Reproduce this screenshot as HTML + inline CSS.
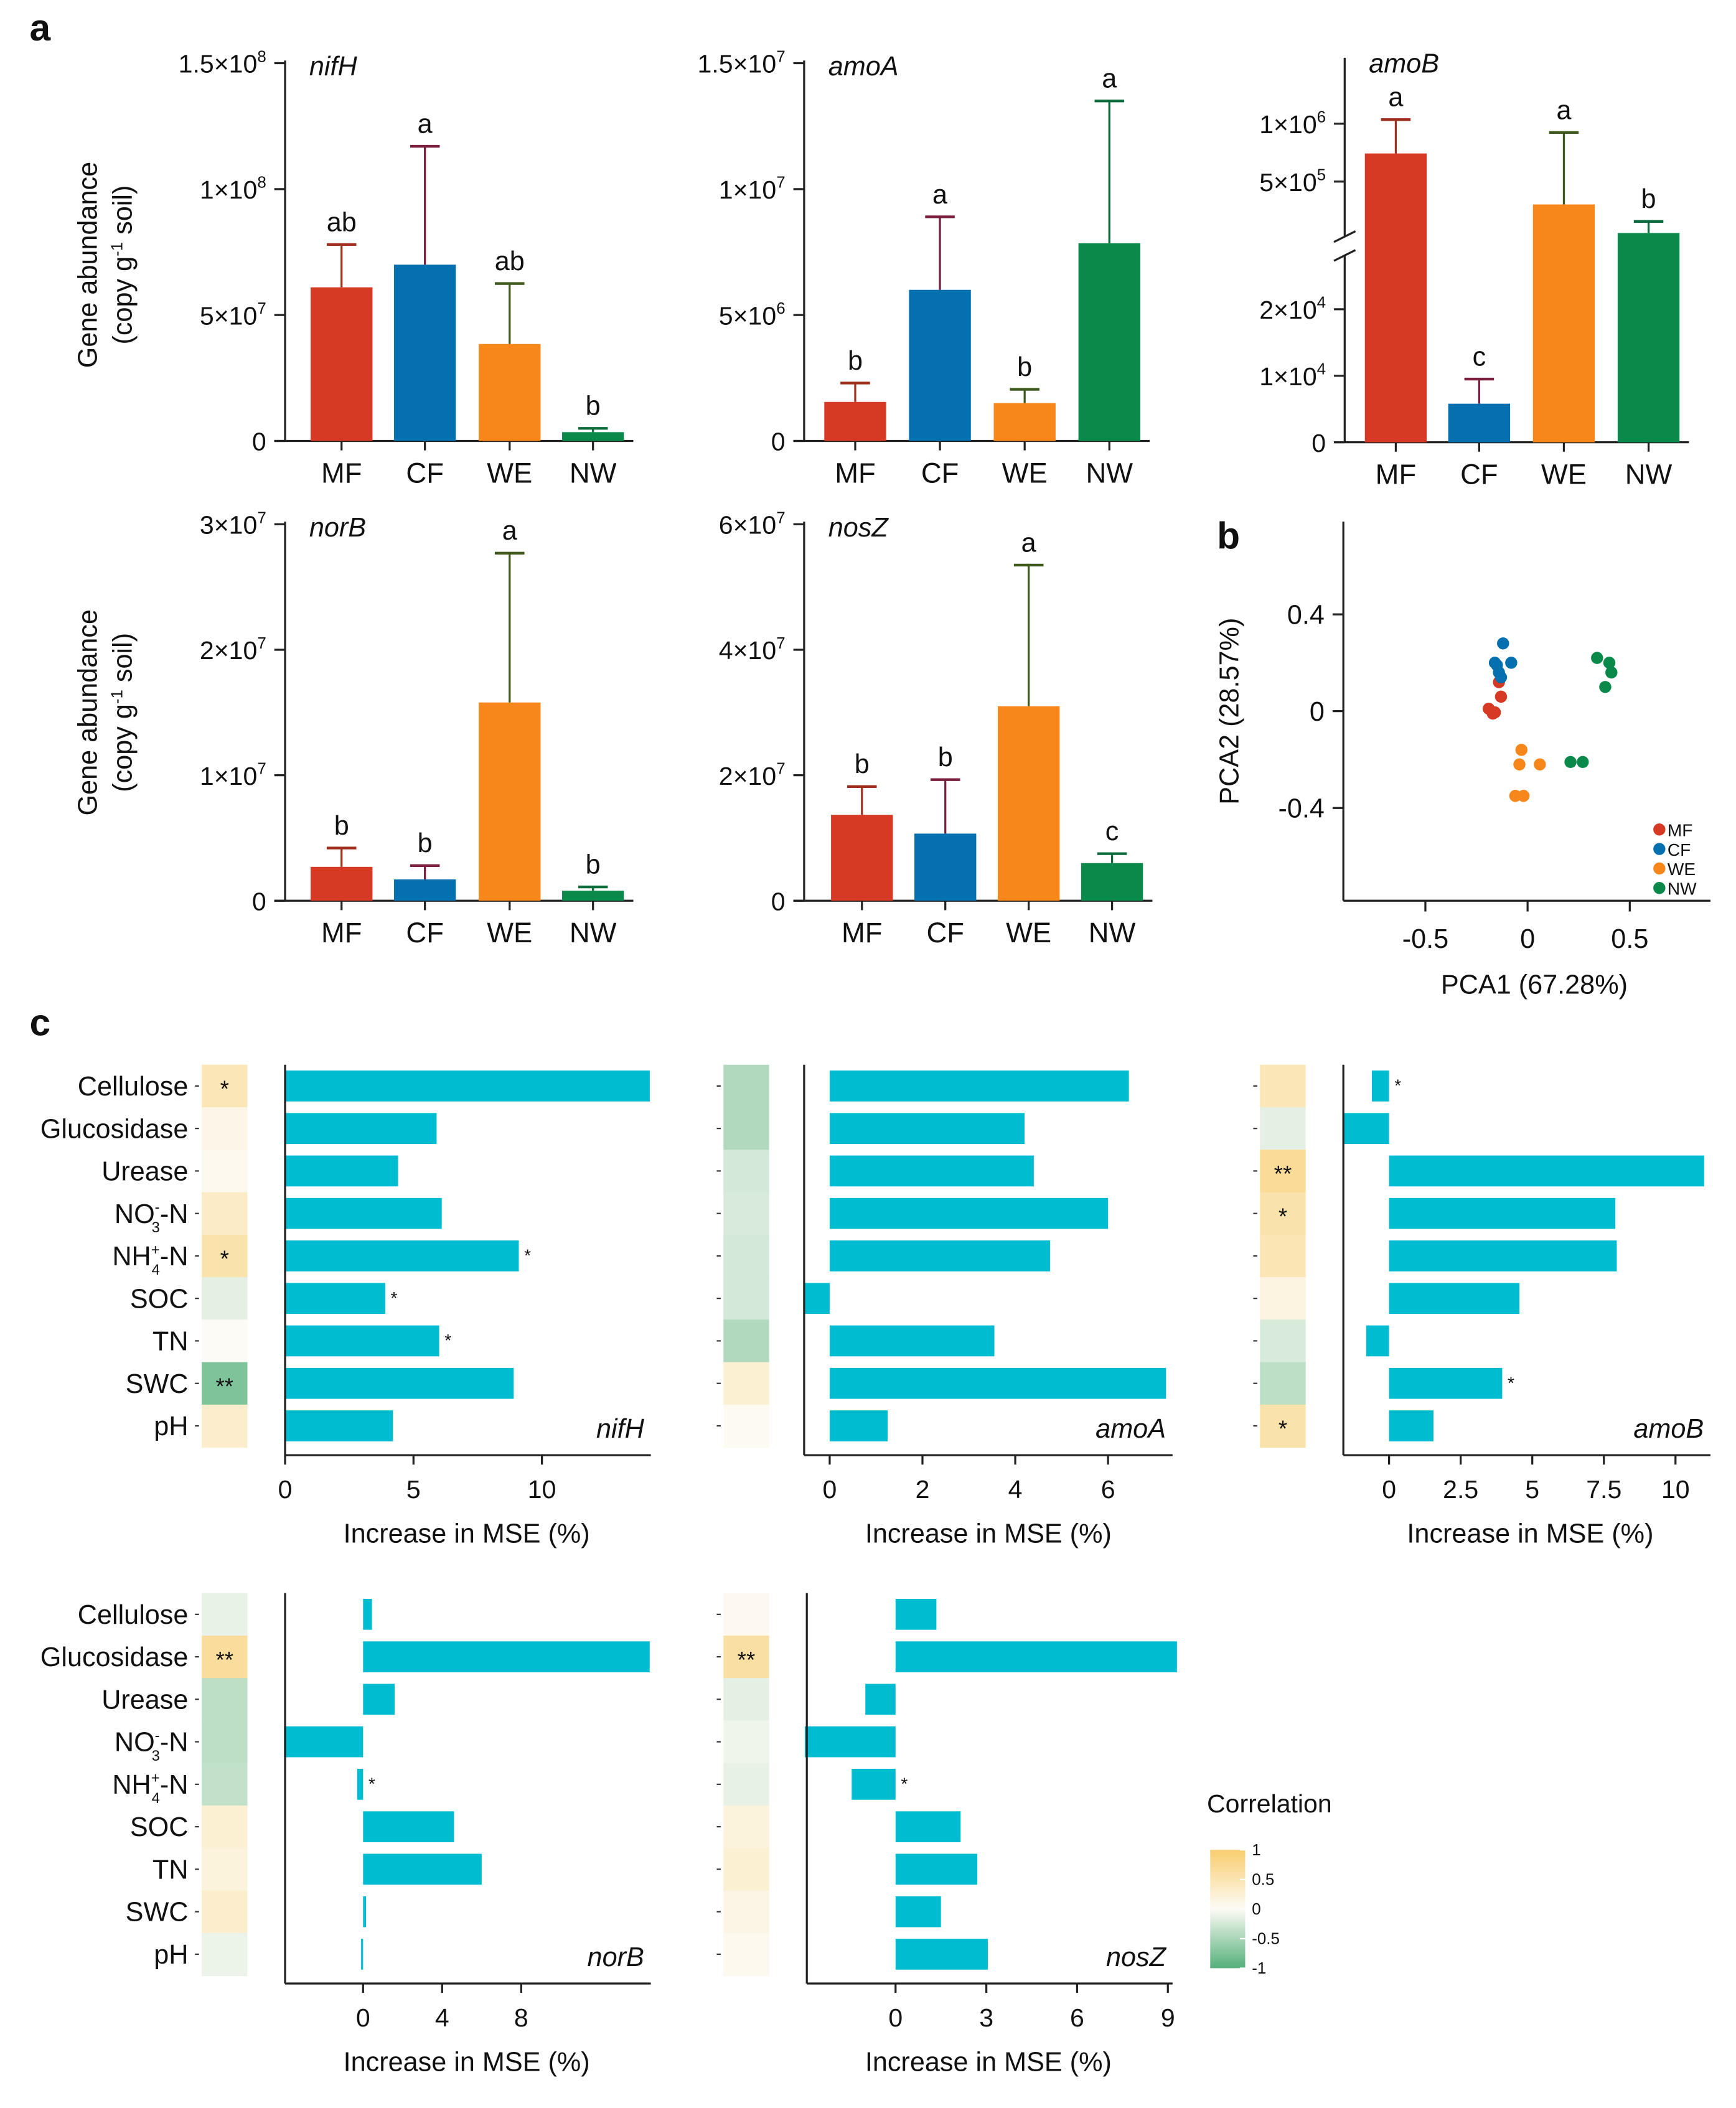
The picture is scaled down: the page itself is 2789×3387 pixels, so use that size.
<!DOCTYPE html>
<html><head><meta charset="utf-8">
<style>
html,body{margin:0;padding:0;background:#fff;}
svg{display:block;font-family:"Liberation Sans",Arial,sans-serif;}
</style></head>
<body>
<svg id="fig" width="2789" height="3387" viewBox="0 0 1291 1568" preserveAspectRatio="none" xmlns="http://www.w3.org/2000/svg"></svg>
<script>
// ---------- data: panel a ----------
const groups = ['MF','CF','WE','NW'];
const nifhMean = [6.1e7, 7.0e7, 3.85e7, 3.5e6];
const nifhErr = [7.8e7, 1.17e8, 6.25e7, 5e6];
const nifhLetters = ['ab','a','ab','b'];
const amoaMean = [1.55e6, 6.0e6, 1.5e6, 7.85e6];
const amoaErr = [2.3e6, 8.9e6, 2.05e6, 1.35e7];
const amoaLetters = ['b','a','b','a'];
const amobMean = [7.0e5, 5.8e3, 3.8e5, 2.7e5];
const amobErr = [1.05e6, 9.5e3, 9.0e5, 3.1e5];
const amobLetters = ['a','c','a','b'];
const norbMean = [2.7e6, 1.7e6, 1.58e7, 8e5];
const norbErr = [4.2e6, 2.8e6, 2.77e7, 1.1e6];
const norbLetters = ['b','b','a','b'];
const noszMean = [1.37e7, 1.07e7, 3.1e7, 6e6];
const noszErr = [1.82e7, 1.93e7, 5.35e7, 7.5e6];
const noszLetters = ['b','b','a','c'];
// ---------- data: panel b ----------
const pcaGroups = ['MF','MF','MF','MF','MF','CF','CF','CF','CF','CF','CF','WE','WE','WE','WE','WE','NW','NW','NW','NW','NW','NW'];
const pcaX = [-0.19,-0.17,-0.16,-0.13,-0.14,-0.12,-0.16,-0.15,-0.14,-0.08,-0.13,-0.03,-0.04,0.06,-0.06,-0.02,0.34,0.40,0.41,0.38,0.21,0.27];
const pcaY = [0.01,-0.01,-0.005,0.06,0.12,0.28,0.2,0.19,0.16,0.2,0.14,-0.16,-0.22,-0.22,-0.35,-0.35,0.22,0.2,0.16,0.1,-0.21,-0.21];
// ---------- data: panel c ----------
const factors = ['Cellulose','Glucosidase','Urease','NO3','NH4','SOC','TN','SWC','pH'];
const mseNifh = [14.2,5.9,4.4,6.1,9.1,3.9,6.0,8.9,4.2];
const mseNifhSig = ['','','','','*','*','*','',''];
const corNifh = [0.45,0.1,0.05,0.35,0.55,-0.15,0,-0.75,0.3];
const corNifhSig = ['*','','','','*','','','**',''];
const mseAmoa = [6.45,4.2,4.4,6.0,4.75,-0.55,3.55,7.25,1.25];
const corAmoa = [-0.45,-0.45,-0.25,-0.22,-0.25,-0.25,-0.45,0.25,0.03];
const mseAmob = [-0.6,-1.6,11.0,7.9,7.95,4.55,-0.8,3.95,1.55];
const mseAmobSig = ['*','','','','','','','*',''];
const corAmob = [0.45,-0.15,0.7,0.55,0.48,0.15,-0.22,-0.38,0.55];
const corAmobSig = ['','','**','*','','','','','*'];
const mseNorb = [0.45,14.5,1.6,-4.0,-0.3,4.6,6.0,0.15,-0.1];
const mseNorbSig = ['','','','','*','','','',''];
const corNorb = [-0.12,0.65,-0.38,-0.38,-0.35,0.25,0.18,0.3,-0.1];
const corNorbSig = ['','**','','','','','','',''];
const mseNosz = [1.35,9.3,-1.0,-3.0,-1.45,2.15,2.7,1.5,3.05];
const mseNoszSig = ['','','','','*','','','',''];
const corNosz = [0.04,0.6,-0.15,-0.08,-0.13,0.18,0.25,0.12,0.05];
const corNoszSig = ['','**','','','','','','',''];
const cbTicks = ['1','0.5','0','-0.5','-1'];

const NS='http://www.w3.org/2000/svg';
const svg=document.getElementById('fig');
function mk(tag,attrs,parent){const e=document.createElementNS(NS,tag);for(const k in attrs)e.setAttribute(k,attrs[k]);(parent||svg).appendChild(e);return e;}
function txt(x,y,s,size,anchor,extra,parent){const t=mk('text',Object.assign({x:x,y:y,'font-size':size,'text-anchor':anchor||'middle',fill:'#111'},extra||{}),parent);t.textContent=s;return t;}
const fill={MF:'#d63a25',CF:'#0570b0',WE:'#f7861b',NW:'#0a8a4a'};
const errc={MF:'#a0301e',CF:'#7a1f3d',WE:'#3d5a1c',NW:'#0a6a3a'};

function sciLabel(x,y,mant,exp,parent){
  const t=mk('text',{x:x,y:y,'font-size':19,'text-anchor':'end',fill:'#111'},parent);
  const a=mk('tspan',{},t);a.textContent=mant+'×10';
  const b=mk('tspan',{dy:-8,'font-size':12},t);b.textContent=exp;
  
  
  return t;
}

function barPanel(name,ax,y0,ytop,vmax,ticks,mean,err,letters,cx,title,scaleFn){
  const g=mk('g',{});
  
  
  const yS=scaleFn||(v=>y0-(v/vmax)*(y0-ytop));
  const axis=mk('line',{x1:ax,y1:ytop-2,x2:ax,y2:y0,stroke:'#222','stroke-width':1.5},g);
  
  
  const xa=mk('line',{x1:ax-8,y1:y0,x2:cx[3]+30,y2:y0,stroke:'#222','stroke-width':1.5},g);
  
  
  ticks.forEach(tk=>{
    const y=yS(tk.v);
    const l=mk('line',{x1:ax-8,y1:y,x2:ax,y2:y,stroke:'#222','stroke-width':1.5},g);
    
    
    if(tk.e) sciLabel(ax-14,y+7,tk.m,tk.e,g);
    else {const t=txt(ax-14,y+7,tk.m,19,'end',{},g);
      
      }
  });
  groups.forEach((gr,i)=>{
    const yt=yS(mean[i]), ye=yS(err[i]);
    const el=mk('line',{x1:cx[i],y1:ye,x2:cx[i],y2:yt,stroke:errc[gr],'stroke-width':1.5},g);
    
    
    const ec=mk('line',{x1:cx[i]-11,y1:ye,x2:cx[i]+11,y2:ye,stroke:errc[gr],'stroke-width':2},g);
    
    
    const r=mk('rect',{x:cx[i]-23,y:yt,width:46,height:y0-yt,fill:fill[gr]},g);
    
    
    const lt=txt(cx[i],ye-10,letters[i],20,'middle',{},g);
    
    
    const tk=mk('line',{x1:cx[i],y1:y0,x2:cx[i],y2:y0+7,stroke:'#222','stroke-width':1.5},g);
    
    
    const xl=txt(cx[i],y0+31,gr,21,'middle',{},g);
    
    
  });
  const tt=txt(ax+18,ytop+9,title,20,'start',{'font-style':'italic'},g);
  
  
  return g;
}

// panel letters
[['a',22,30],['b',905,408],['c',22,770]].forEach(p=>{
  const t=txt(p[1],p[2],p[0],28,'start',{'font-weight':'bold'});
  
  
});

// y-axis titles
[197,530].forEach(cy=>{
  const t=mk('text',{x:0,y:0,'font-size':20,'text-anchor':'middle',fill:'#111',transform:`translate(72,${cy}) rotate(-90)`});
  t.textContent='Gene abundance';
  
  
  const t2=mk('text',{x:0,y:0,'font-size':20,'text-anchor':'middle',fill:'#111',transform:`translate(98,${cy}) rotate(-90)`});
  const s1=mk('tspan',{},t2);s1.textContent='(copy g';
  const s2=mk('tspan',{dy:-7,'font-size':12},t2);s2.textContent='-1';
  const s3=mk('tspan',{dy:7},t2);s3.textContent=' soil)';
  
  
});

barPanel('nifh',212,328,47,1.5e8,[{v:0,m:'0'},{v:5e7,m:'5',e:'7'},{v:1e8,m:'1',e:'8'},{v:1.5e8,m:'1.5',e:'8'}],nifhMean,nifhErr,nifhLetters,[254,316,379,441],'nifH');
barPanel('amoa',598,328,47,1.5e7,[{v:0,m:'0'},{v:5e6,m:'5',e:'6'},{v:1e7,m:'1',e:'7'},{v:1.5e7,m:'1.5',e:'7'}],amoaMean,amoaErr,amoaLetters,[636,699,762,825],'amoA');
// amoB broken axis
const amobScale=v=> v>=1e5 ? 92-(Math.log10(v)-6)*143 : 329-(v/1e4)*49.5;
const gB=barPanel('amob',1000,329,45,1,[{v:0,m:'0'},{v:1e4,m:'1',e:'4'},{v:2e4,m:'2',e:'4'},{v:5e5,m:'5',e:'5'},{v:1e6,m:'1',e:'6'}],amobMean,amobErr,amobLetters,[1038,1100,1163,1226],'amoB',amobScale);
const brk=mk('rect',{x:994,y:176,width:12,height:14,fill:'#fff'},gB);


[176,190].forEach(y=>{const l=mk('line',{x1:992,y1:y+4,x2:1008,y2:y-4,stroke:'#222','stroke-width':1.5},gB);
  
  });
barPanel('norb',212,670,390,3e7,[{v:0,m:'0'},{v:1e7,m:'1',e:'7'},{v:2e7,m:'2',e:'7'},{v:3e7,m:'3',e:'7'}],norbMean,norbErr,norbLetters,[254,316,379,441],'norB');
barPanel('nosz',598,670,390,6e7,[{v:0,m:'0'},{v:2e7,m:'2',e:'7'},{v:4e7,m:'4',e:'7'},{v:6e7,m:'6',e:'7'}],noszMean,noszErr,noszLetters,[641,703,765,827],'nosZ');

// ---------- PCA ----------
(function(){
  const g=mk('g',{});
  
  
  const X=v=>1136+v*152, Y=v=>529-v*180;
  const ya=mk('line',{x1:999,y1:388,x2:999,y2:670,stroke:'#222','stroke-width':1.5},g);
  
  
  const xa=mk('line',{x1:999,y1:670,x2:1272,y2:670,stroke:'#222','stroke-width':1.5},g);
  
  
  [-0.5,0,0.5].forEach(v=>{
    const l=mk('line',{x1:X(v),y1:670,x2:X(v),y2:678,stroke:'#222','stroke-width':1.5},g);
    
    
    const t=txt(X(v),705,String(v),20,'middle',{},g);
    
    
  });
  [0.4,0,-0.4].forEach(v=>{
    const l=mk('line',{x1:991,y1:Y(v),x2:999,y2:Y(v),stroke:'#222','stroke-width':1.5},g);
    
    
    const t=txt(985,Y(v)+7,String(v),20,'end',{},g);
    
    
  });
  const xt=txt(1141,739,'PCA1 (67.28%)',20,'middle',{},g);
  
  
  const yt=mk('text',{x:0,y:0,'font-size':20,'text-anchor':'middle',fill:'#111',transform:'translate(921,529) rotate(-90)'},g);
  yt.textContent='PCA2 (28.57%)';
  
  
  pcaX.forEach((x,i)=>{
    const c=mk('circle',{cx:X(x),cy:Y(pcaY[i]),r:4.5,fill:fill[pcaGroups[i]]},g);
    
    
  });
  groups.forEach((gr,i)=>{
    const c=mk('circle',{cx:1234,cy:617+i*14.5,r:4.5,fill:fill[gr]},g);
    
    
    const t=txt(1240,622+i*14.5,gr,13,'start',{},g);
    
    
  });
})();

// ---------- panel c ----------
function corColor(r){
  const lerp=(a,b,t)=>a.map((v,i)=>Math.round(v+(b[i]-v)*t));
  const w=[253,251,245], yel=[248,205,110], grn=[84,176,122];
  const c = r>=0 ? lerp(w,yel,Math.min(r,1)) : lerp(w,grn,Math.min(-r,1));
  return `rgb(${c[0]},${c[1]},${c[2]})`;
}
function rowLabel(x,y,f,g){
  const t=mk('text',{x:x,y:y,'font-size':20,'text-anchor':'end',fill:'#111'},g);
  if(f==='NO3'||f==='NH4'){
    const a=mk('tspan',{},t);a.textContent=f==='NO3'?'NO':'NH';
    const b=mk('tspan',{dy:-8,'font-size':11},t);b.textContent=f==='NO3'?'-':'+';
    const c=mk('tspan',{dx:-6,dy:15,'font-size':11},t);c.textContent=f==='NO3'?'3':'4';
    const d=mk('tspan',{dy:-7},t);d.textContent='-N';
  } else t.textContent=f;
  
  
}
function msePanel(name,hx,ax,zero,ppu,y0,ticks,mse,mseSig,cor,corSig,title,labels,xEnd,xlabCx){
  const g=mk('g',{});
  
  
  const rowH=31.6, top=y0, n=factors.length, bottom=top+n*rowH;
  const X=v=>zero+v*ppu;
  factors.forEach((f,i)=>{
    const yc=top+rowH*(i+0.5);
    const c=mk('rect',{x:hx,y:top+i*rowH,width:34,height:rowH+0.5,fill:corColor(cor[i])},g);
    
    
    if(corSig[i]){const s=txt(hx+17,yc+8,corSig[i],17,'middle',{},g);
      
      }
    const d=mk('line',{x1:hx-5,y1:yc,x2:hx-2,y2:yc,stroke:'#333','stroke-width':1},g);
    
    
    if(labels) rowLabel(hx-10,yc+7,f,g);
    const v=mse[i], x1=Math.min(X(0),X(v)), w=Math.abs(X(v)-X(0));
    const b=mk('rect',{x:x1,y:yc-11.5,width:w,height:23,fill:'#00bcd0'},g);
    
    
    if(mseSig&&mseSig[i]){const s=txt(X(Math.max(v,0))+4,yc+4,mseSig[i],13,'start',{},g);
      
      }
  });
  const ya=mk('line',{x1:ax,y1:top,x2:ax,y2:bottom+6,stroke:'#222','stroke-width':1.5},g);
  
  
  const xa=mk('line',{x1:ax,y1:bottom+6,x2:xEnd,y2:bottom+6,stroke:'#222','stroke-width':1.5},g);
  
  
  ticks.forEach(tv=>{
    const l=mk('line',{x1:X(tv),y1:bottom+6,x2:X(tv),y2:bottom+13,stroke:'#222','stroke-width':1.5},g);
    
    
    const t=txt(X(tv),bottom+38,String(tv),19,'middle',{},g);
    
    
  });
  const xl=txt(xlabCx,bottom+71,'Increase in MSE (%)',20,'middle',{},g);
  
  
  const tt=txt(xEnd-5,bottom-7,title,20,'end',{'font-style':'italic'},g);
  
  
}
msePanel('nifh',150,212,212,19.1,792,[0,5,10],mseNifh,mseNifhSig,corNifh,corNifhSig,'nifH',true,484,347);
msePanel('amoa',538,598,617,34.5,792,[0,2,4,6],mseAmoa,null,corAmoa,['','','','','','','','',''],'amoA',false,872,735);
msePanel('amob',937,999,1033,21.3,792,[0,2.5,5,7.5,10],mseAmob,mseAmobSig,corAmob,corAmobSig,'amoB',false,1272,1138);
msePanel('norb',150,212,270,14.7,1185,[0,4,8],mseNorb,mseNorbSig,corNorb,corNorbSig,'norB',true,484,347);
msePanel('nosz',538,600,666,22.5,1185,[0,3,6,9],mseNosz,mseNoszSig,corNosz,corNoszSig,'nosZ',false,872,735);

// colorbar
(function(){
  const g=mk('g',{});
  
  
  const defs=mk('defs',{},g);
  const lg=mk('linearGradient',{id:'cbg',x1:0,y1:0,x2:0,y2:1},defs);
  [[0,corColor(1)],[0.5,corColor(0)],[1,corColor(-1)]].forEach(s=>mk('stop',{offset:s[0],'stop-color':s[1]},lg));
  const r=mk('rect',{x:900,y:1376,width:26,height:88,fill:'url(#cbg)'},g);
  
  
  const t=txt(944,1348,'Correlation',19,'middle',{},g);
  
  
  cbTicks.forEach((s,i)=>{
    const y=1376+i*22;
    const l=mk('line',{x1:922,y1:y,x2:926,y2:y,stroke:'#fff','stroke-width':1},g);
    
    
    const tl=txt(931,y+4,s,12,'start',{},g);
    
    
  });
})();
</script>
</body></html>
